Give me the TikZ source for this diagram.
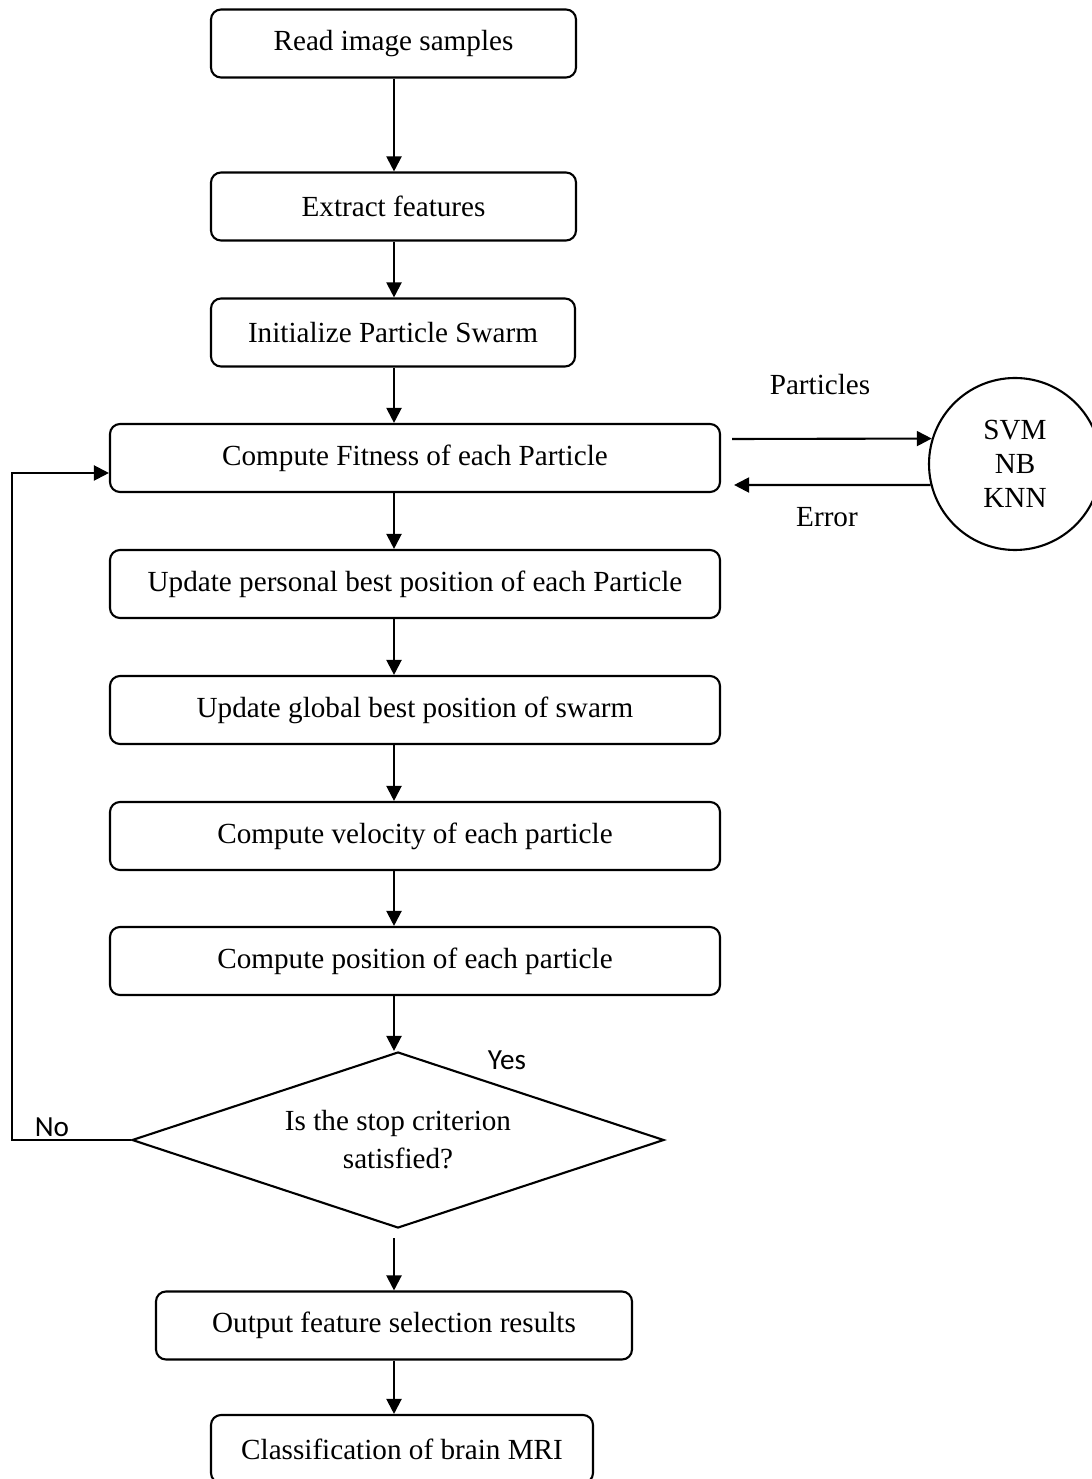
\documentclass[tikz,border=0pt]{standalone}
\usepackage{fontspec}
\setmainfont{Liberation Serif}
\newfontfamily\answerfont{Carlito}
\usetikzlibrary{shapes.geometric,arrows.meta}

\begin{document}
\begin{tikzpicture}[
  procbox/.style={draw,line width=0.6pt,rounded corners=0.1cm,inner sep=0pt,
    minimum height=0.68cm,font=\fontsize{8.3}{10}\selectfont},
  decision/.style={draw,line width=0.6pt,diamond,aspect=3,inner sep=0pt,
    minimum width=5.32cm,minimum height=1.76cm,align=center,
    font=\fontsize{8.3}{10.8}\selectfont},
  classifier/.style={draw,line width=0.6pt,circle,inner sep=0pt,
    minimum size=1.72cm,align=center,font=\fontsize{8.3}{9.7}\selectfont},
  flow/.style={line width=0.6pt,-{Triangle[length=0.15cm,width=0.15cm]}},
  sidelabel/.style={font=\fontsize{8.3}{10}\selectfont},
  answer/.style={font=\answerfont\fontsize{8.3}{10}\selectfont}
]
  % Page frame
  \useasboundingbox (0,0) rectangle (10.91,-14.79);

  % Steps of the swarm search
  \node[procbox,minimum width=3.65cm] (read) at (3.935,-0.435) {Read image samples};
  \node[procbox,minimum width=3.65cm] (extract) at (3.935,-2.065) {Extract features};
  \node[procbox,minimum width=3.64cm] (init) at (3.93,-3.325) {Initialize Particle Swarm};
  \node[procbox,minimum width=6.10cm] (fit) at (4.15,-4.58) {Compute Fitness of each Particle};
  \node[procbox,minimum width=6.10cm] (pbest) at (4.15,-5.84) {Update personal best position of each Particle};
  \node[procbox,minimum width=6.10cm] (gbest) at (4.15,-7.10) {Update global best position of swarm};
  \node[procbox,minimum width=6.10cm] (vel) at (4.15,-8.36) {Compute velocity of each particle};
  \node[procbox,minimum width=6.10cm] (pos) at (4.15,-9.61) {Compute position of each particle};

  % Stop test
  \node[decision] (dec) at (3.98,-11.40) {Is the stop criterion\\satisfied?};

  % Results
  \node[procbox,minimum width=4.76cm] (out) at (3.94,-13.255) {Output feature selection results};
  \node[procbox,minimum width=3.82cm] (cls) at (4.02,-14.49) {Classification of brain MRI};

  % Classifiers
  \node[classifier] (clf) at (10.15,-4.64) {SVM\\NB\\KNN};

  % Vertical arrows
  \coordinate (spine) at (3.94,0);
  \coordinate (loop) at (0.12,0);
  \foreach \a/\b in {read/extract,extract/init,init/fit,fit/pbest,pbest/gbest,gbest/vel,vel/pos,pos/dec}
    \draw[flow] (\a.south -| spine) -- (\b.north -| spine);
  \draw[flow,shorten <=0.09cm] (dec.south -| spine) -- (out.north -| spine);
  \draw[flow] (out.south -| spine) -- (cls.north -| spine);

  % Back to fitness when not done
  \draw[flow] (dec.west) -- (dec.west -| loop) |- ([yshift=-0.15cm]fit.west);

  % Exchange with the classifiers
  \draw[flow] ([xshift=0.11cm,yshift=0.19cm]fit.east) -- (clf.163);
  \draw[flow] (clf.194) -- ([xshift=0.13cm,yshift=-0.27cm]fit.east);

  % Labels
  \node[sidelabel] (parts) at (8.20,-3.85) {Particles};
  \node[sidelabel] (err) at (8.27,-5.17) {Error};
  \node[answer] (yes) at (5.07,-10.60) {Yes};
  \node[answer] (no) at (0.52,-11.27) {No};

\end{tikzpicture}
\end{document}
